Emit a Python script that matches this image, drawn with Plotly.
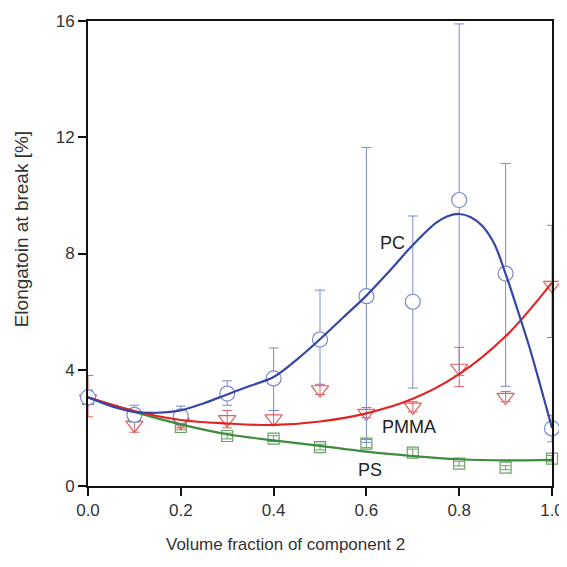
import plotly.graph_objects as go

# measured points
x_pts = [0.0, 0.1, 0.2, 0.3, 0.4, 0.5, 0.6, 0.7, 0.8, 0.9, 1.0]

pc_y = [3.05, 2.45, 2.4, 3.18, 3.7, 5.04, 6.53, 6.34, 9.84, 7.31, 1.98]
pc_hi = [3.3, 2.78, 2.75, 3.62, 4.75, 6.74, 11.65, 9.29, 15.9, 11.1, 2.43]
pc_lo = [2.8, 2.2, 2.1, 2.78, 2.6, 3.47, 1.5, 3.37, 3.8, 3.43, 1.52]

pmma_y = [3.0, 2.1, 2.2, 2.29, 2.32, 3.32, 2.51, 2.72, 4.06, 3.06, 6.91]
pmma_hi = [3.8, 2.4, 2.45, 2.6, 2.6, 3.5, 2.7, 2.9, 4.77, 3.25, 8.97]
pmma_lo = [2.38, 1.85, 2.0, 2.0, 2.1, 3.15, 2.35, 2.55, 3.42, 2.9, 5.11]

ps_y = [3.0, 2.4, 2.03, 1.72, 1.63, 1.34, 1.46, 1.15, 0.77, 0.63, 0.94]
ps_hi = [3.1, 2.5, 2.13, 1.82, 1.73, 1.44, 1.6, 1.27, 0.85, 0.7, 1.05]
ps_lo = [2.9, 2.3, 1.93, 1.62, 1.53, 1.24, 1.32, 1.03, 0.69, 0.56, 0.83]

# fitted curves
pc_fit_x = [0.0, 0.05, 0.1, 0.15, 0.2, 0.25, 0.3, 0.35, 0.4, 0.45, 0.5, 0.55,
            0.6, 0.65, 0.7, 0.75, 0.775, 0.8, 0.825, 0.85, 0.875, 0.9, 0.925,
            0.95, 0.975, 1.0]
pc_fit_y = [3.05, 2.75, 2.55, 2.52, 2.6, 2.85, 3.15, 3.45, 3.75, 4.35, 5.05, 5.8,
            6.55, 7.4, 8.29, 9.05, 9.28, 9.36, 9.25, 8.95, 8.35, 7.3, 6.1,
            4.85, 3.45, 2.0]

pmma_fit_x = [0.0, 0.1, 0.2, 0.3, 0.4, 0.5, 0.6, 0.7, 0.8, 0.9, 1.0]
pmma_fit_y = [3.05, 2.58, 2.27, 2.15, 2.1, 2.22, 2.5, 3.0, 3.85, 5.15, 7.0]

ps_fit_x = [0.0, 0.1, 0.2, 0.3, 0.4, 0.5, 0.6, 0.7, 0.8, 0.9, 1.0]
ps_fit_y = [3.05, 2.55, 2.12, 1.78, 1.57, 1.38, 1.18, 1.03, 0.92, 0.88, 0.9]

x_ticks = [0.0, 0.2, 0.4, 0.6, 0.8, 1.0]
x_tick_text = ["0.0", "0.2", "0.4", "0.6", "0.8", "1.0"]
y_ticks = [0, 4, 8, 12, 16]
y_tick_text = ["0", "4", "8", "12", "16"]

BLUE = "#3646a6"
BLUE_L = "#7d89cc"
RED = "#e02424"
RED_L = "#e06060"
GREEN = "#3e8a3e"
GREEN_L = "#68a268"
FAMILY = "Liberation Sans, Arial, sans-serif"


def err(y, hi, lo):
    return [h - v for v, h in zip(y, hi)], [v - l for v, l in zip(y, lo)]


fig = go.Figure()

for ys, hi, lo, col, sym, size in [
    (ps_y, ps_hi, ps_lo, GREEN_L, "square-open", 11),
    (pmma_y, pmma_hi, pmma_lo, RED_L, "triangle-down-open", 15),
    (pc_y, pc_hi, pc_lo, BLUE_L, "circle", 15),
]:
    up, dn = err(ys, hi, lo)
    fig.add_trace(go.Scatter(
        x=x_pts, y=ys, mode="markers",
        marker=dict(symbol=sym, size=size, color="white" if sym == "circle" else col,
                    line=dict(color=col, width=1.2)),
        error_y=dict(type="data", symmetric=False, array=up, arrayminus=dn,
                     color=col, thickness=1, width=5),
        showlegend=False, cliponaxis=False,
    ))

fig.add_trace(go.Scatter(x=ps_fit_x, y=ps_fit_y, mode="lines",
                         line=dict(color=GREEN, width=2.2, shape="spline"), showlegend=False))
fig.add_trace(go.Scatter(x=pmma_fit_x, y=pmma_fit_y, mode="lines",
                         line=dict(color=RED, width=2.2, shape="spline"), showlegend=False))
fig.add_trace(go.Scatter(x=pc_fit_x, y=pc_fit_y, mode="lines",
                         line=dict(color=BLUE, width=2.2, shape="spline", smoothing=1.0),
                         showlegend=False))

for txt, x, y in [("PC", 0.657, 8.35), ("PMMA", 0.692, 2.03), ("PS", 0.607, 0.56)]:
    fig.add_annotation(x=x, y=y, text=txt, showarrow=False,
                       font=dict(family=FAMILY, size=18, color="#222222"))

fig.add_annotation(xref="paper", yref="paper", x=0.425, y=0, yshift=-58, yanchor="middle",
                   text="Volume fraction of component 2", showarrow=False,
                   font=dict(family=FAMILY, size=17, color="#333333"))
fig.add_annotation(xref="paper", yref="paper", x=0, xshift=-67, xanchor="center",
                   y=0.552, yanchor="middle",
                   text="Elongatoin at break [%]", textangle=-90, showarrow=False,
                   font=dict(family=FAMILY, size=19, color="#333333"))

axis_common = dict(showgrid=False, zeroline=False, showline=True, linecolor="#111111",
                   linewidth=2, mirror=True, ticks="outside", ticklen=8, tickwidth=2,
                   tickcolor="#111111", automargin=False, ticklabeloverflow="allow",
                   tickfont=dict(family=FAMILY, size=17, color="#333333"))

# page body has an 8 px margin; size the figure so the plot area lands where the reference has it
fig.update_layout(
    width=559, height=551,
    margin=dict(l=80, r=15, t=13, b=73),
    paper_bgcolor="white", plot_bgcolor="white",
    font=dict(family=FAMILY, size=16, color="#333333"),
    xaxis=dict(range=[0, 1], tickvals=x_ticks, ticktext=x_tick_text, **axis_common),
    yaxis=dict(range=[0, 16], tickvals=y_ticks, ticktext=y_tick_text, **axis_common),
)

fig.write_html("out.html")
